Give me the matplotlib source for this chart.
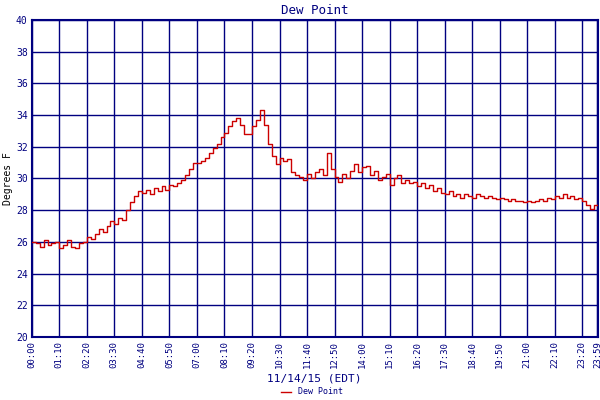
import matplotlib
matplotlib.use("Agg")
import matplotlib.pyplot as plt
import matplotlib.transforms as mtransforms
import numpy as np

step_minutes = 10
dew_point = [
    26.0,25.9,25.7,26.1,25.8,25.9,26.0,25.6,25.8,26.1,25.7,25.6,25.9,
    26.0,26.3,26.2,26.5,26.8,26.6,27.0,27.3,27.1,27.5,27.4,28.0,
    28.5,28.9,29.2,29.1,29.3,29.0,29.4,29.2,29.5,29.3,29.6,29.5,
    29.7,29.9,30.2,30.6,31.0,31.0,31.1,31.3,31.6,31.9,32.2,32.6,
    32.9,33.3,33.6,33.8,33.4,32.8,32.8,33.3,33.7,34.3,33.4,32.2,
    31.4,30.9,31.3,31.1,31.2,30.4,30.2,30.1,29.9,30.3,30.0,30.4,
    30.6,30.2,31.6,30.6,30.1,29.8,30.3,30.0,30.5,30.9,30.4,30.7,
    30.8,30.2,30.5,29.9,30.1,30.3,29.6,30.0,30.2,29.7,29.9,29.7,
    29.8,29.5,29.7,29.4,29.6,29.2,29.4,29.1,29.0,29.2,28.9,29.0,
    28.8,29.0,28.9,28.8,29.0,28.9,28.8,28.9,28.8,28.7,28.8,28.7,
    28.6,28.7,28.6,28.6,28.5,28.6,28.5,28.6,28.7,28.6,28.8,28.7,
    28.9,28.8,29.0,28.8,28.9,28.7,28.8,28.6,28.3,28.1,28.3,28.4,
]
tick_labels = ["00:00","01:10","02:20","03:30","04:40","05:50","07:00","08:10",
               "09:20","10:30","11:40","12:50","14:00","15:10","16:20","17:30",
               "18:40","19:50","21:00","22:10","23:20","23:59"]

def to_min(s):
    h, m = s.split(":")
    return int(h) * 60 + int(m)

navy = "#000080"
mins = np.arange(len(dew_point)) * step_minutes
mins[-1] = 1439

fig = plt.figure(figsize=(6, 4), dpi=100)
ax = fig.add_axes([0.053, 0.1575, 0.943, 0.7925])
ax.plot(mins, dew_point, color="#cc0000", lw=1, drawstyle="steps-post", zorder=3)
ax.set_xlim(0, 1439)
ax.set_ylim(20, 40)
ax.set_yticks(range(20, 41, 2))
ticks = [to_min(t) for t in tick_labels]
ax.set_xticks(ticks)
ax.set_xticklabels(tick_labels, rotation=90, family="DejaVu Sans Mono",
                   fontsize=6.5, color=navy)
last = ax.get_xticklabels()[-1]
last.set_transform(last.get_transform() + mtransforms.ScaledTranslation(-3/100, 0, fig.dpi_scale_trans))
for lab in ax.get_yticklabels():
    lab.set_family("DejaVu Sans Mono"); lab.set_fontsize(7); lab.set_color(navy)
ax.tick_params(length=0, pad=3)
ax.grid(True, color=navy, lw=1.0)
for s in ax.spines.values():
    s.set_color(navy); s.set_linewidth(1.5)
ax.axvline(1439, color=navy, lw=2.5)
ax.set_title("Dew Point", color=navy, family="DejaVu Sans Mono", fontsize=9, pad=4)
ax.set_xlabel("11/14/15 (EDT)", color=navy, family="DejaVu Sans Mono", fontsize=8, labelpad=4)
ax.set_ylabel("Degrees F", color="black", family="DejaVu Sans Mono", fontsize=7, labelpad=2)
leg = fig.legend(["Dew Point"], loc="lower center", bbox_to_anchor=(0.52, -0.01),
                 frameon=False, prop={"family": "DejaVu Sans Mono", "size": 6},
                 handlelength=1.2)
for t in leg.get_texts():
    t.set_color(navy)
fig.savefig("out.png", dpi=100)
